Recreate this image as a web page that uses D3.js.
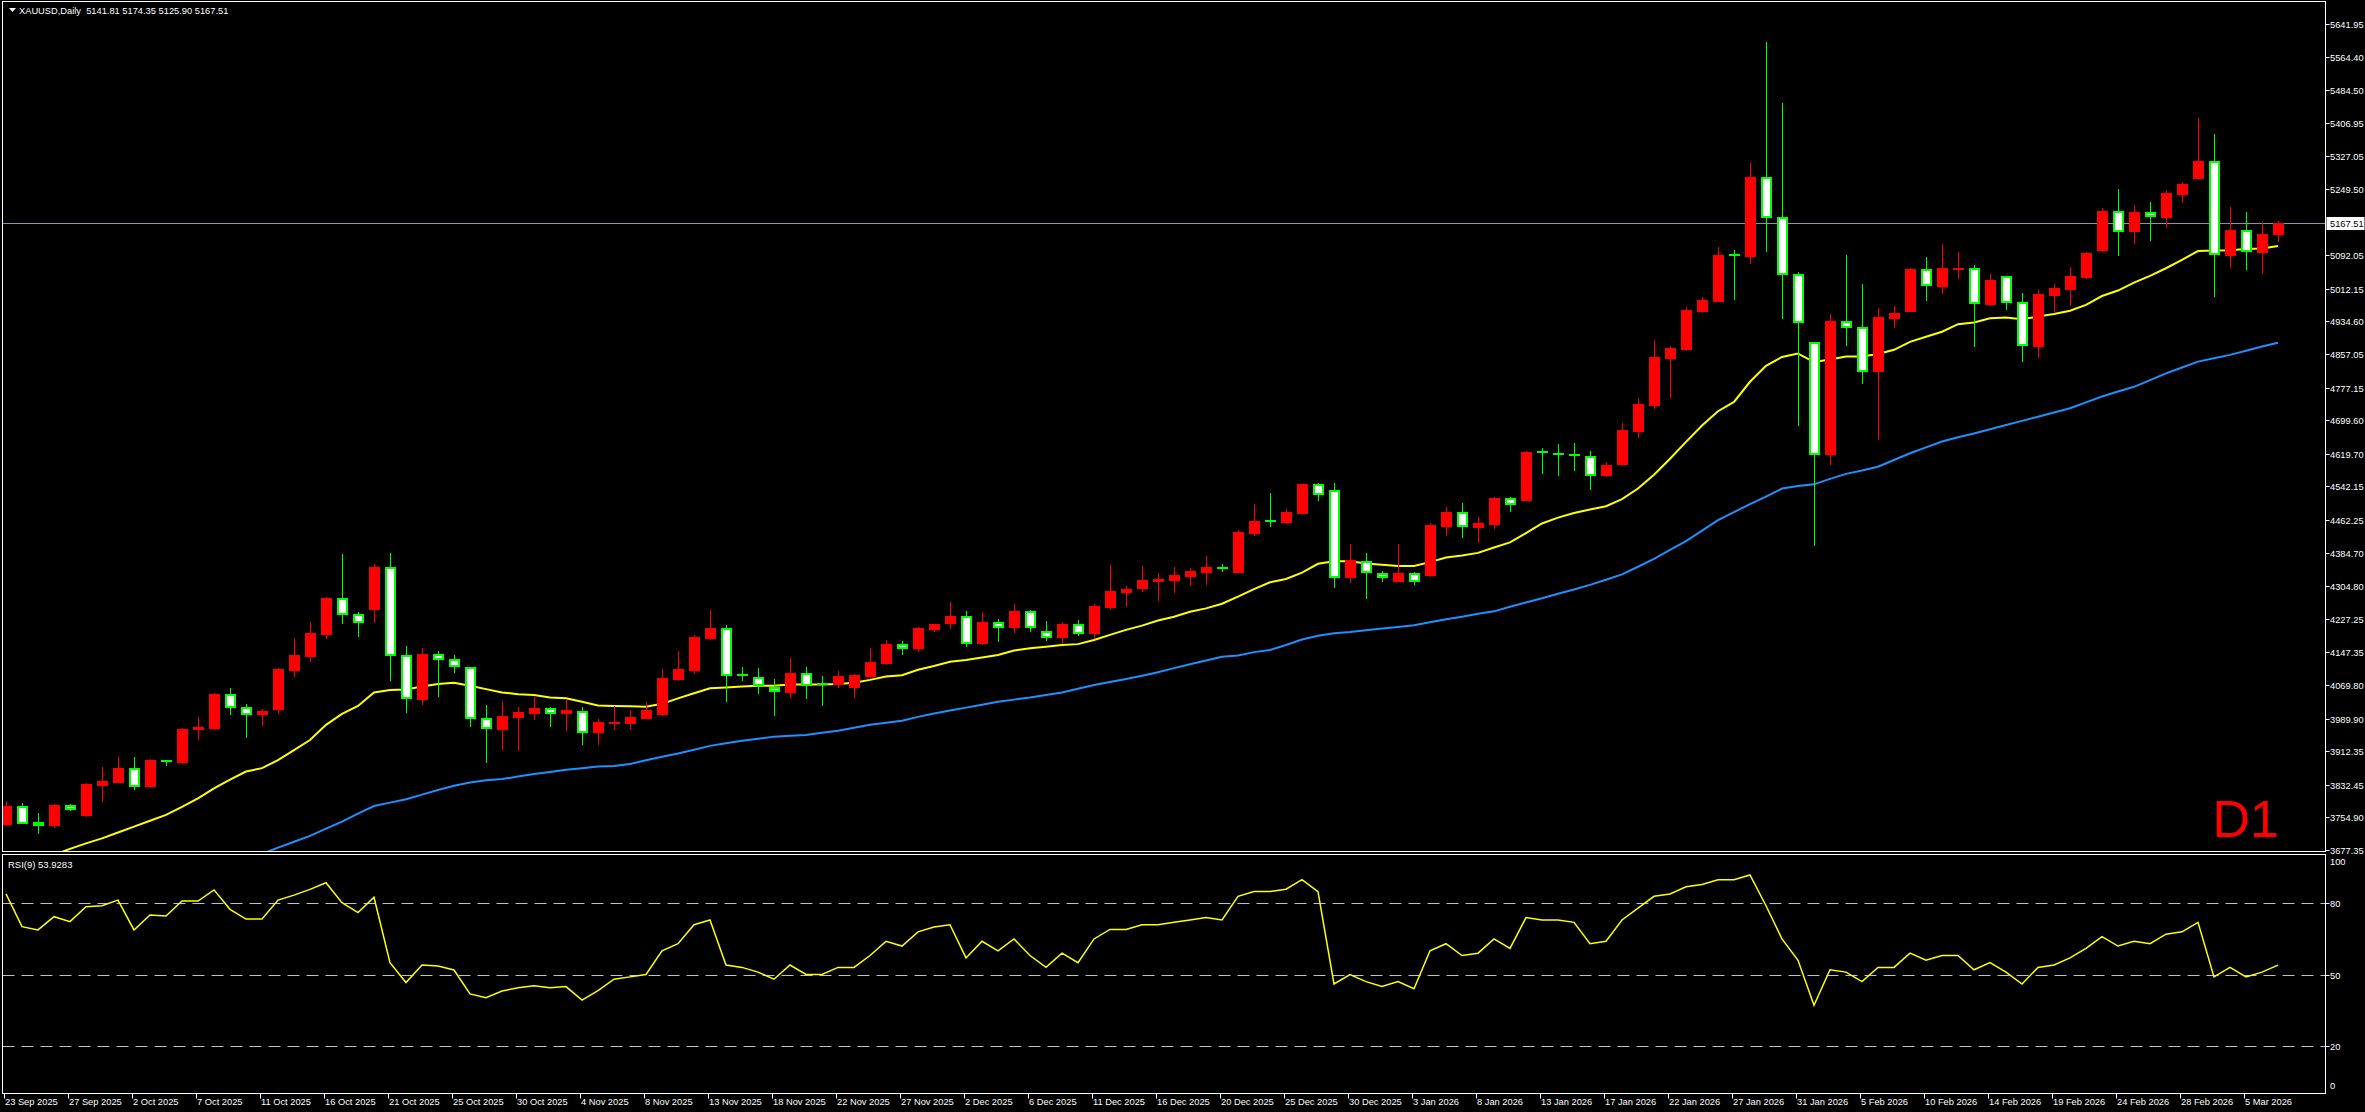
<!DOCTYPE html>
<html><head><meta charset="utf-8">
<script src="https://cdn.jsdelivr.net/npm/d3@7"></script>
<style>html,body{margin:0;padding:0;background:#000;overflow:hidden}svg{display:block}</style>
</head><body>
<script>
// ---- DATA ----
const symbolTitle = "XAUUSD,Daily  5141.81 5174.35 5125.90 5167.51";
const rsiTitle = "RSI(9) 53.9283";
const lastPrice = 5167.51;
const dateLabels = ["23 Sep 2025","27 Sep 2025","2 Oct 2025","7 Oct 2025","11 Oct 2025","16 Oct 2025","21 Oct 2025","25 Oct 2025","30 Oct 2025","4 Nov 2025","8 Nov 2025","13 Nov 2025","18 Nov 2025","22 Nov 2025","27 Nov 2025","2 Dec 2025","6 Dec 2025","11 Dec 2025","16 Dec 2025","20 Dec 2025","25 Dec 2025","30 Dec 2025","3 Jan 2026","8 Jan 2026","13 Jan 2026","17 Jan 2026","22 Jan 2026","27 Jan 2026","31 Jan 2026","5 Feb 2026","10 Feb 2026","14 Feb 2026","19 Feb 2026","24 Feb 2026","28 Feb 2026","5 Mar 2026"];
const barsPerDateLabel = 4;
const priceTicks = [5641.95,5564.40,5484.50,5406.95,5327.05,5249.50,5092.05,5012.15,4934.60,4857.05,4777.15,4699.60,4619.70,4542.15,4462.25,4384.70,4304.80,4227.25,4147.35,4069.80,3989.90,3912.35,3832.45,3754.90,3677.35];
const rsiLevels = [80,50,20];
const rsiAxisLabels = [100,80,50,20,0];

const opens = [3738.5,3782.1,3743.2,3737,3784.5,3760.7,3832,3840,3871.7,3829.6,
3890,3887.5,3964.4,3968.4,4047.7,4016.8,4000.1,4012.8,4106.3,4139.6,
4192,4276,4238.7,4251.4,4350.5,4140.4,4037.4,4142.8,4130.9,4113.5,
3990.6,3965.2,3994.6,4004.1,4014.4,4004.1,4008.8,3958.9,3980.5,3979.5,
3992.2,4000.9,4084.2,4106.3,4182.5,4204.6,4094.5,4088.1,4065.9,4054,
4097.6,4071,4072.3,4065.9,4092.1,4122.2,4166.6,4158.6,4203,4217.3,
4233.2,4169.8,4218.9,4207.8,4245,4197.5,4184.1,4214.1,4193.5,4255.4,
4291.1,4300.6,4317.2,4319.6,4329.1,4338.6,4349,4338.6,4431.4,4459.3,
4457.7,4479.4,4547,4532.8,4325.9,4365.1,4336.7,4317.5,4336.7,4331.7,
4448.5,4480.3,4445.2,4453.5,4513.6,4510.3,4623,4619.6,4617,4615.4,
4568.7,4596.2,4674.7,4735.6,4848.3,4869.1,4959.2,4983.4,5092,5091.1,
5278,5182.1,5048.5,4886.7,4620,4935,4920.5,4817.5,4943.5,4960.1,
5058.5,5019.6,5060.8,5060.8,4976.8,5041.8,4979.9,4876.9,4998.2,5012.5,
5040.2,5104.4,5196.4,5150.4,5194,5183.7,5238.4,5276.5,5315.3,5093.3,
5151.2,5100.5,5141.81];
const highs = [3795,3790,3764.6,3786.8,3786.8,3836,3874,3898,3898,3893,
3891.5,3967.6,3993,4050.8,4062.7,4024.7,4012,4111,4180.9,4219.7,
4280,4381.5,4244.3,4356.9,4383.8,4162.6,4157,4150.7,4141.2,4113.5,
4021.5,4031.8,4017.5,4042.1,4016.8,4035.8,4016.8,3989.8,4019.9,4010.4,
4029.4,4107.9,4150.7,4188.8,4248.3,4211.8,4112.7,4110.3,4084.2,4134,
4111.9,4091.3,4103.2,4096,4157.9,4176,4173.7,4208.6,4214.9,4267.3,
4245.8,4243.5,4226.8,4262.5,4249,4222,4219.7,4225.2,4263.3,4354.5,
4305.3,4352.9,4336.3,4349.7,4348.1,4376.7,4357.7,4438.5,4500.4,4526,
4488.6,4548,4550.3,4550.3,4405.2,4382.6,4340.9,4405.2,4338.4,4456.1,
4492.8,4501.9,4469.4,4517.8,4516.1,4627.1,4634.6,4642.9,4645.5,4626.3,
4600.4,4693.1,4752.3,4890,4875,4968.4,4991.8,5111,5103.6,5311.4,
5598,5455,5051.9,4886.7,4952,5093,5023.6,4965.7,4971.3,5061.6,
5087.8,5118.7,5099.7,5068.8,5048.2,5041.8,5002.2,5009.3,5023.6,5064,
5100.5,5205.1,5249.5,5211.5,5218.6,5247.1,5266.2,5418.4,5380.3,5206.7,
5194.8,5171,5174.35];
const lows = [3737,3741,3718.7,3733,3772.6,3759,3794.8,3838.4,3821.7,3828,
3878.8,3885,3941.4,3964.4,4000.9,3947,3974.7,4004,4092,4127.8,
4182.5,4218.1,4187.2,4220.5,4082.5,4006.4,4024.7,4044.5,4101.6,3973,
3887.5,3918.5,3915.3,3989,3972.3,3962.8,3929.6,3929.6,3965.2,3965.2,
3990.6,3998.5,4081.8,4098.4,4179.3,4032.6,4082.5,4051.6,3999.3,4042.1,
4039.7,4023.1,4064.3,4042.1,4088.1,4119.8,4143.6,4151.5,4199.1,4205.4,
4163.4,4167.4,4174.5,4195.9,4198.3,4176.9,4169,4188,4182.5,4251.4,
4257.8,4292.6,4272.8,4291.1,4307.7,4310.1,4341,4338.6,4426.6,4449,
4456.1,4479,4510.3,4303,4315.9,4275.8,4317.5,4317.5,4310.9,4330,
4426.8,4422.6,4409.3,4443.5,4482.8,4510,4574.5,4569.5,4581.2,4537,
4567,4596,4660.5,4729,4755.6,4866.6,4956.7,4983,4987.6,5073.6,
5102.8,4943.4,4688.9,4403.5,4596,4879.5,4788.9,4655.7,4922.1,4960,
4985.5,5003,5038.6,4876.9,4973.6,4964.9,4841.2,4850.7,4958.6,4974.4,
5038.6,5102.1,5093.3,5121.9,5129,5159.9,5219.4,5273.3,4995.8,5064.8,
5060,5050.5,5125.90];
const closes = [3782.1,3742.5,3737.7,3784.5,3774.2,3834.4,3841.5,3872.5,3830.4,3891.5,
3890,3965.2,3970.8,4048.5,4016.8,4000.9,4008,4107.9,4141.2,4193.5,
4276.8,4237.9,4219,4350.5,4140.4,4039,4143.6,4131.7,4115,3990.6,
3966.8,3996.2,4005.7,4015.2,4002.5,4010.5,3958.9,3981.9,3982,3993.8,
4010.4,4086.5,4107.9,4184.1,4205.4,4094.5,4094.5,4069.9,4054.8,4097.6,
4070.7,4071,4091.3,4093.7,4124.5,4167.4,4158.6,4205.4,4214.9,4234,
4170.6,4218.9,4208.6,4245.8,4208.6,4184.8,4214.9,4194.3,4257.8,4293.4,
4298.2,4319.6,4322,4331.5,4341,4349.7,4349,4433.8,4460,4459.3,
4480.3,4547.8,4524.5,4325.9,4366,4337.6,4325.9,4335.1,4317.5,4449.4,
4481.1,4446.9,4455.2,4514.4,4499.4,4623,4623,4619.6,4617,4570.4,
4592,4676.4,4738.1,4850,4870.8,4961.8,4985.1,5092.8,5092,5278,
5182.1,5048.5,4932.5,4620.4,4935.3,4920.7,4817.5,4945.1,4954.6,5059.3,
5020.4,5061.6,5061.2,4977.6,5032.3,4979.9,4877.7,5000.6,5014.1,5042.6,
5097.3,5197.2,5148.8,5194.8,5184.5,5240,5261.4,5316.1,5094.1,5152,
5101.3,5142.4,5167.51];

// fast (yellow) moving average, first value belongs to bar index maFastStart
const maFastStart = 3;
const maFast = [3666,3680,3693,3705,3719,3733,3747,3761,3780,3800,
3824,3845,3864,3872,3891,3915,3939,3975,4001,4020,
4052,4058,4059,4066,4072,4075,4068,4060,4052,4048,
4046,4040,4038,4030,4021,4020,4019,4018,4025,4038,
4050,4062,4064,4066,4068,4068,4071,4071,4071,4072,
4075,4082,4090,4093,4106,4115,4125,4129,4135,4141,
4152,4157,4161,4165,4167,4177,4189,4201,4211,4223,
4232,4244,4252,4263,4280,4298,4314,4322,4337,4358,
4364,4364,4359,4356,4353,4353,4362,4373,4378,4384,
4397,4409,4431,4454,4468,4479,4487,4495,4512,4537,
4570,4608,4648,4687,4721,4743,4791,4829,4850,4858,
4838,4844,4851,4851,4857,4867,4886,4898,4910,4928,
4932,4942,4944,4940,4946,4952,4960,4974,4995,5008,
5027,5043,5061,5081,5102,5103,5104,5107,5108,5114];
// slow (blue) moving average
const maSlowStart = 16;
const maSlow = [3668,3683,3697,3711,3728,3745,3764,3782,3790,3798,
3809,3820,3830,3838,3843,3846,3852,3858,3863,3868,
3872,3876,3877,3882,3891,3899,3907,3916,3925,3931,
3937,3942,3947,3949,3951,3956,3961,3968,3975,3980,
3985,3994,4002,4009,4016,4023,4030,4035,4040,4046,
4052,4061,4070,4077,4084,4092,4100,4110,4119,4128,
4137,4140,4148,4153,4165,4178,4187,4193,4196,4200,
4204,4208,4212,4219,4226,4232,4239,4245,4256,4266,
4276,4287,4297,4308,4320,4333,4351,4370,4391,4412,
4437,4462,4481,4500,4518,4537,4543,4547,4560,4572,
4580,4589,4605,4621,4635,4649,4659,4668,4678,4688,
4698,4708,4718,4728,4742,4756,4768,4779,4795,4811,
4825,4839,4847,4855,4865,4875,4884];
const rsiValues = [84.0,70.2,68.8,74.4,72.3,78.6,79.0,81.4,68.8,75.1,
74.7,81.0,81.0,85.7,77.5,73.4,73.4,81.4,83.5,85.9,
88.7,80.3,76.1,82.6,55.0,46.6,54.0,53.6,51.9,41.8,
40.2,43.0,44.4,45.3,44.4,44.9,39.2,43.2,
48,49,50,60,63,71,73,54,53,51,
48,54,50,50,53,53,58,64,62,68,
70,71,57,64,60,65,58,53,59,55,
65,69,69,71,71,72,73,74,73,83,
85,85,86,90,85,46,50,47,45,47,
44,60,63,58,59,65,61,74,73,73,
72,63,64,73,78,83,84,87,88,90,
90,92,79,65,56,37,52,51,47,53,
53,59,56,58,58,52,55,51,46,53,
54,57,61,66,62,64,63,67,68,72,
49,53,49,51,53.93];

// ---- LAYOUT ----
const W = 2365, H = 1112;
const frameL = 2.5, frameR = 2325.5;
const mainTop = 1.5, mainBot = 851.5, rsiTop = 854.5, rsiBot = 1093.5;
const FONT = "'Liberation Sans', Arial, sans-serif";
const AXIS_FS = 9.3;
const C = {bg:"#000", frame:"#ffffff", text:"#ffffff", up:"#ff0000", down:"#ffffff", downEdge:"#00ff00",
           fast:"#ffff00", slow:"#1e90ff", rsi:"#ffff00", level:"#c0c0c0", priceLine:"#8796a5"};

const n = closes.length;
const x = d3.scaleLinear().domain([0, n - 1]).range([6, 6 + 16 * (n - 1)]);
const y = d3.scaleLinear().domain([3677.35, 5641.95]).range([850, 24]);
const yr = d3.scaleLinear().domain([0, 100]).range([1093, 856]);

const svg = d3.select("body").append("svg").attr("width", W).attr("height", H);
svg.append("rect").attr("width", W).attr("height", H).attr("fill", C.bg);

const defs = svg.append("defs");
defs.append("clipPath").attr("id", "clipMain").append("rect")
  .attr("x", frameL + 0.5).attr("y", mainTop + 0.5).attr("width", frameR - frameL - 1).attr("height", mainBot - mainTop - 1);
defs.append("clipPath").attr("id", "clipRsi").append("rect")
  .attr("x", frameL + 0.5).attr("y", rsiTop + 0.5).attr("width", frameR - frameL - 1).attr("height", rsiBot - rsiTop - 1);

// ---- MAIN PANEL ----
const main = svg.append("g").attr("clip-path", "url(#clipMain)");

// current price line
main.append("line").attr("x1", frameL).attr("x2", frameR)
  .attr("y1", Math.round(y(lastPrice)) + 0.5).attr("y2", Math.round(y(lastPrice)) + 0.5)
  .attr("stroke", C.priceLine).attr("stroke-width", 1);

// moving averages
const fastPts = maFast.map((v, k) => [maFastStart + k, v]);
const slowPts = maSlow.map((v, k) => [maSlowStart + k, v]);
const maLine = d3.line().x(d => x(d[0])).y(d => y(d[1]));
main.append("path").attr("d", maLine(slowPts)).attr("fill", "none").attr("stroke", C.slow).attr("stroke-width", 2);
main.append("path").attr("d", maLine(fastPts)).attr("fill", "none").attr("stroke", C.fast).attr("stroke-width", 2);

// candles
const bars = d3.range(n).map(i => ({i, o: opens[i], h: highs[i], l: lows[i], c: closes[i]}));
const cg = main.append("g");
bars.forEach(b => {
  const cx = Math.round(x(b.i));
  const up = b.c > b.o, doji = b.c === b.o;
  const wickCol = up ? C.up : C.downEdge;
  const yh = Math.round(y(b.h)), yl = Math.round(y(b.l));
  cg.append("line").attr("x1", cx + 0.5).attr("x2", cx + 0.5).attr("y1", yh).attr("y2", yl + 1)
    .attr("stroke", wickCol).attr("stroke-width", 1);
  const top = Math.round(y(Math.max(b.o, b.c))), bot = Math.round(y(Math.min(b.o, b.c)));
  if (doji) {
    cg.append("rect").attr("x", cx - 5).attr("y", top - 1).attr("width", 11).attr("height", 2).attr("fill", C.downEdge);
  } else if (up) {
    cg.append("rect").attr("x", cx - 5).attr("y", top).attr("width", 11).attr("height", Math.max(bot - top, 1) + 1).attr("fill", C.up);
  } else {
    const hh = Math.max(bot - top, 1) + 1;
    cg.append("rect").attr("x", cx - 5).attr("y", top).attr("width", 11).attr("height", hh).attr("fill", C.downEdge);
    if (hh > 4) cg.append("rect").attr("x", cx - 3).attr("y", top + 2).attr("width", 7).attr("height", hh - 4).attr("fill", C.down);
  }
});

// D1 label
svg.append("text").attr("x", 2279).attr("y", 837).attr("text-anchor", "end")
  .attr("font-family", FONT).attr("font-size", 52).attr("fill", "#ff0000").text("D1");

// header
svg.append("path").attr("d", "M9,8 L16,8 L12.5,12 Z").attr("fill", C.text);
svg.append("text").attr("x", 19).attr("y", 14).attr("font-family", FONT).attr("font-size", 9.3)
  .attr("fill", C.text).attr("xml:space", "preserve").style("white-space", "pre").text(symbolTitle);

// frames
const frame = svg.append("g").attr("fill", "none").attr("stroke", C.frame).attr("stroke-width", 1);
frame.append("rect").attr("x", frameL).attr("y", mainTop).attr("width", frameR - frameL).attr("height", mainBot - mainTop);
frame.append("rect").attr("x", frameL).attr("y", rsiTop).attr("width", frameR - frameL).attr("height", rsiBot - rsiTop);

// price axis
const pa = svg.append("g");
priceTicks.forEach(p => {
  const yy = Math.round(y(p)) + 0.5;
  pa.append("line").attr("x1", frameR).attr("x2", frameR + 4).attr("y1", yy).attr("y2", yy).attr("stroke", C.frame);
  pa.append("text").attr("x", 2330).attr("y", yy + 3.3).attr("font-family", FONT).attr("font-size", AXIS_FS)
    .attr("fill", C.text).text(d3.format(".2f")(p));
});
// last price label
const ly = Math.round(y(lastPrice)) + 0.5;
pa.append("rect").attr("x", frameR + 1).attr("y", ly - 6.5).attr("width", 38).attr("height", 13).attr("fill", "#ffffff");
pa.append("text").attr("x", 2330).attr("y", ly + 3.3).attr("font-family", FONT).attr("font-size", AXIS_FS)
  .attr("fill", "#000").text(d3.format(".2f")(lastPrice));

// ---- RSI PANEL ----
const rg = svg.append("g").attr("clip-path", "url(#clipRsi)");
rsiLevels.forEach(v => {
  const yy = Math.round(yr(v)) + 0.5;
  rg.append("line").attr("x1", frameL).attr("x2", frameR).attr("y1", yy).attr("y2", yy)
    .attr("stroke", C.level).attr("stroke-width", 1).attr("stroke-dasharray", "12,7");
});
const rsiLine = d3.line().x((d, i) => x(i)).y(d => yr(d));
rg.append("path").attr("d", rsiLine(rsiValues)).attr("fill", "none").attr("stroke", C.rsi).attr("stroke-width", 1.5);
svg.append("text").attr("x", 8).attr("y", 868).attr("font-family", FONT).attr("font-size", 9.5)
  .attr("fill", C.text).text(rsiTitle);

rsiAxisLabels.forEach(v => {
  const yy = Math.round(yr(v)) + 0.5;
  const ty = v === 100 ? 865 : (v === 0 ? 1089 : yy + 3.3);
  if (v !== 100 && v !== 0) svg.append("line").attr("x1", frameR).attr("x2", frameR + 4).attr("y1", yy).attr("y2", yy).attr("stroke", C.frame);
  svg.append("text").attr("x", 2330).attr("y", ty).attr("font-family", FONT).attr("font-size", AXIS_FS)
    .attr("fill", C.text).text(v);
});

// ---- TIME AXIS ----
const ta = svg.append("g");
dateLabels.forEach((lab, k) => {
  const xx = Math.round(x(k * barsPerDateLabel)) - 1.5;
  ta.append("line").attr("x1", xx).attr("x2", xx).attr("y1", rsiBot).attr("y2", rsiBot + 5).attr("stroke", C.frame);
  ta.append("text").attr("x", xx + 0.5).attr("y", 1105).attr("font-family", FONT).attr("font-size", 9.3)
    .attr("fill", C.text).text(lab);
});
</script>
</body></html>
